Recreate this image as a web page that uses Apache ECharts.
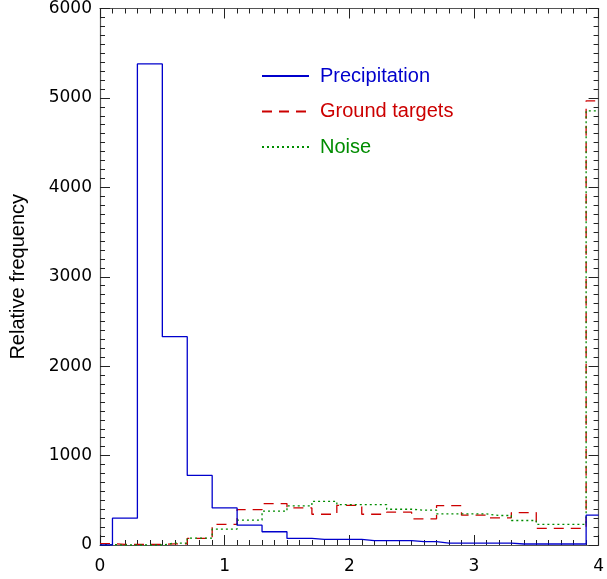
<!DOCTYPE html>
<html>
<head>
<meta charset="utf-8">
<script src="https://cdn.jsdelivr.net/npm/echarts@6/dist/echarts.min.js"></script>
<style>html,body{margin:0;padding:0;background:#fff}#c{width:607px;height:579px}</style>
</head>
<body>
<div id="c"></div>
<script>
const xValues = [0, 0.2, 0.4, 0.6, 0.8, 1.0, 1.2, 1.4, 1.6, 1.8, 2.0, 2.2, 2.4, 2.6, 2.8, 3.0, 3.2, 3.4, 3.6, 3.8, 4.0];
const precipitation = [0, 300, 5380, 2330, 778, 415, 222, 148, 74, 63, 63, 48, 48, 37, 22, 22, 22, 11, 11, 11, 333];
const groundTargets = [15, 8, 8, 12, 75, 230, 396, 463, 415, 344, 444, 344, 367, 293, 441, 333, 304, 363, 185, 185, 4967];
const noise = [5, 0, 0, 22, 76, 178, 278, 378, 437, 489, 452, 452, 400, 389, 348, 348, 330, 274, 230, 230, 4855];
const seriesNames = ['Precipitation', 'Ground targets', 'Noise'];
const seriesColors = ['#0000cc', '#cc0000', '#008c00'];
const xTicks = [0, 1, 2, 3, 4];
const yTicks = [0, 1000, 2000, 3000, 4000, 5000, 6000];

const pairs = v => xValues.map((x, i) => [x, v[i]]);
const chart = echarts.init(document.getElementById('c'), null, {renderer: 'canvas'});
const axisCommon = {
  axisLine: {show: true, onZero: false, lineStyle: {color: '#555', width: 1.2}},
  axisTick: {show: true, inside: true, length: 10, lineStyle: {color: '#222', width: 1}},
  minorTick: {show: true, splitNumber: 10, length: 5, lineStyle: {color: '#222', width: 1}},
  splitLine: {show: false},
  minorSplitLine: {show: false}
};
const labelFont = {fontFamily: 'DejaVu Sans', fontSize: 17, color: '#000'};
const option = {
  animation: false,
  backgroundColor: '#fff',
  grid: {left: 95, right: 4, top: 5, bottom: 34, containLabel: false},
  xAxis: [
    Object.assign({type: 'value', min: xTicks[0], max: xTicks[xTicks.length - 1], interval: 1, position: 'bottom',
      axisLabel: Object.assign({margin: 13, formatter: v => String(v)}, labelFont)}, axisCommon),
    Object.assign({type: 'value', min: xTicks[0], max: xTicks[xTicks.length - 1], interval: 1, position: 'top',
      axisLabel: {show: false}}, axisCommon)
  ],
  yAxis: [
    Object.assign({type: 'value', min: yTicks[0], max: yTicks[yTicks.length - 1], interval: 1000, position: 'left',
      name: 'Relative frequency', nameLocation: 'middle', nameGap: 72, nameRotate: 90,
      nameTextStyle: {fontFamily: 'Liberation Sans', fontSize: 20, color: '#000'},
      axisLabel: Object.assign({margin: 8, formatter: v => String(v)}, labelFont)}, axisCommon),
    Object.assign({type: 'value', min: yTicks[0], max: yTicks[yTicks.length - 1], interval: 1000, position: 'right',
      axisLabel: {show: false}}, axisCommon)
  ],
  legend: {
    orient: 'vertical', left: 256, top: 61, itemWidth: 47, itemHeight: 12, itemGap: 15.5,
    itemStyle: {opacity: 0},
    data: seriesNames.map((n, i) => ({name: n, textStyle: {color: seriesColors[i]}})),
    textStyle: {fontFamily: 'Liberation Sans', fontSize: 20, padding: [0, 0, 0, 6]},
    selectedMode: false
  },
  series: [
    {name: seriesNames[0], type: 'line', step: 'middle', showSymbol: false, symbol: 'none', data: pairs(precipitation),
      lineStyle: {color: seriesColors[0], width: 1.3, type: 'solid'}, itemStyle: {color: seriesColors[0]}, z: 3},
    {name: seriesNames[1], type: 'line', step: 'middle', showSymbol: false, symbol: 'none', data: pairs(groundTargets),
      lineStyle: {color: seriesColors[1], width: 1.3, type: [10, 7]}, itemStyle: {color: seriesColors[1]}, z: 2},
    {name: seriesNames[2], type: 'line', step: 'middle', showSymbol: false, symbol: 'none', data: pairs(noise),
      lineStyle: {color: seriesColors[2], width: 1.3, type: [2, 3]}, itemStyle: {color: seriesColors[2]}, z: 2}
  ]
};
chart.setOption(option);
</script>
</body>
</html>
